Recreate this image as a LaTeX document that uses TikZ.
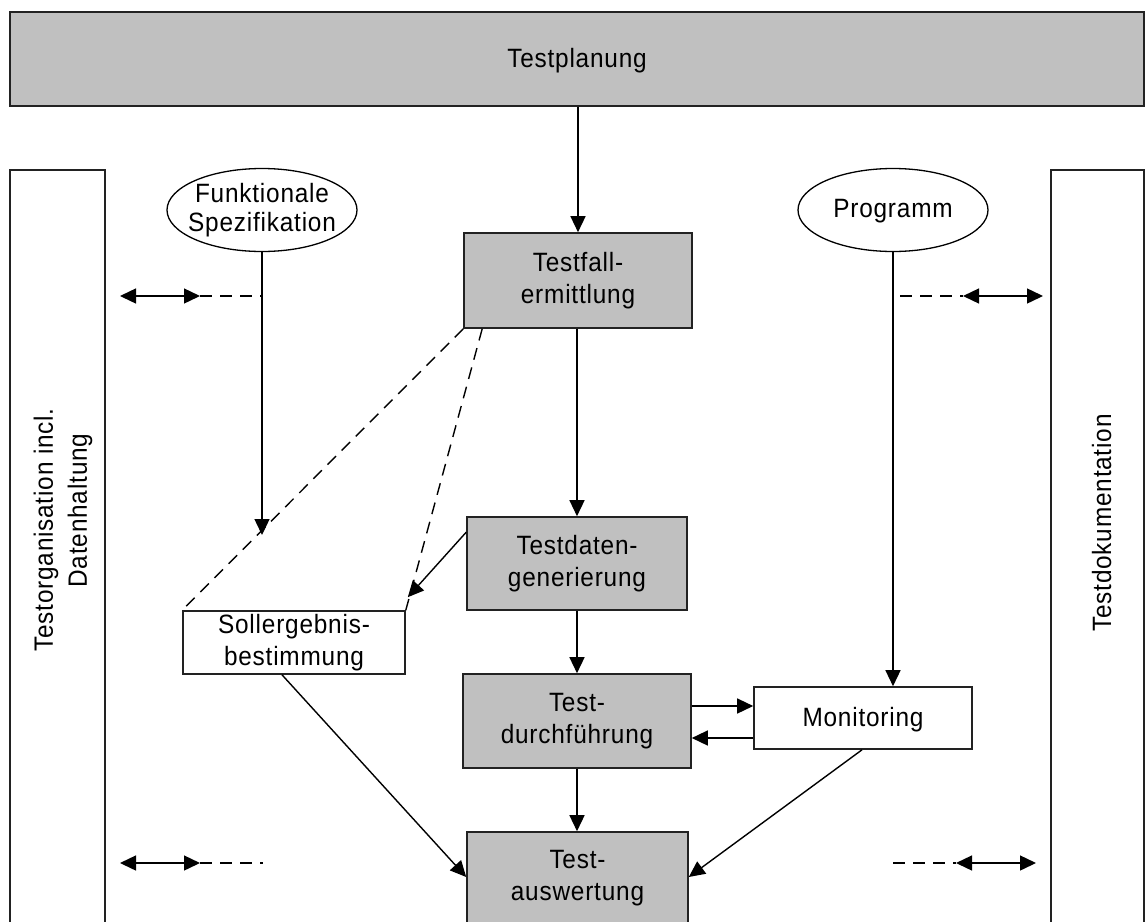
\documentclass[tikz,border=0pt]{standalone}
\usepackage{fontspec}
\setmainfont{Liberation Sans}[LetterSpace=3.0, FakeStretch=0.92]
\usetikzlibrary{arrows.meta,shapes.geometric,calc}
\definecolor{boxgray}{HTML}{C0C0C0}
\definecolor{edge}{HTML}{222222}

\begin{document}
\begin{tikzpicture}[x=1pt,y=-1pt,
  every node/.style={font=\fontsize{26.5}{32}\selectfont},
  oneline/.style={text depth=3pt},
  gbox/.style={draw=edge, fill=boxgray, line width=1.6pt, inner sep=0pt, align=center},
  wbox/.style={draw=edge, fill=white, line width=1.6pt, inner sep=0pt, align=center},
  colbox/.style={draw=edge, line width=1.6pt, inner sep=0pt},
  oval/.style={ellipse, draw, line width=1.3pt, inner sep=0pt,
               minimum width=190pt, minimum height=83pt},
  tip/.style={-{Triangle[length=16pt,width=15pt]}},
  conn/.style={line width=1.4pt, tip},
  both/.style={line width=1.4pt, {Triangle[length=16pt,width=15pt]}-{Triangle[length=16pt,width=15pt]}},
  dsh/.style={line width=1.4pt, dash pattern=on 12pt off 8pt}]

\useasboundingbox (0,0) rectangle (1145,921);
\clip (0,0) rectangle (1145,921);

% planning bar and the two side columns
\node[gbox, oneline, minimum width=1134pt, minimum height=94pt] (plan) at (577,59) {Testplanung};
\node[colbox, minimum width=95pt, minimum height=830pt] (org) at (57.5,585) {};
\node[rotate=90, align=center, font=\fontsize{26.5}{34}\selectfont] (orgtxt) at (63,530)
  {Testorganisation incl.\\\hspace*{39pt}Datenhaltung};
\node[colbox, minimum width=93pt, minimum height=830pt] (doc) at (1097.5,585) {};
\node[rotate=90, oneline] (doctxt) at (1103,523) {Testdokumentation};

% inputs
\node[oval, label={[align=center, inner sep=0pt, font=\fontsize{26.5}{29}\selectfont]center:Funktionale\\Spezifikation}] (fs) at (262,210) {};
\node[oval, label={[inner sep=0pt, oneline]center:Programm}] (prog) at (893,210) {};

% process steps
\node[gbox, minimum width=228pt, minimum height=95pt] (fall) at (578,280.5) {Testfall-\\ermittlung};
\node[gbox, minimum width=220pt, minimum height=93pt] (daten) at (577,563.5) {Testdaten-\\generierung};
\node[wbox, minimum width=222pt, minimum height=63pt] (soll) at (294,642.5) {Sollergebnis-\\bestimmung};
\node[gbox, minimum width=228pt, minimum height=94pt] (durch) at (577,721) {Test-\\durchführung};
\node[wbox, oneline, minimum width=218pt, minimum height=62pt] (mon) at (863,718) {Monitoring};
\node[gbox, minimum width=221pt, minimum height=92pt] (ausw) at (577.5,878) {Test-\\auswertung};

% main flow
\draw[conn] (fall.north |- plan.south) -- (fall.north);
\draw[conn] (daten.north |- fall.south) -- (daten.north);
\draw[conn] (daten.south) -- (durch.north);
\draw[conn] (durch.south) -- (durch.south |- ausw.north);

% specification and program inputs
\coordinate (fsend) at (262,535);
\draw[conn] (fs.south) -- (fsend);
\draw[conn] (prog.south) -- (prog.south |- mon.north);

% expected results
\draw[dsh] (fall.south west) -- (soll.north west);
\draw[dsh] ($(fall.south west)+(19,0)$) -- (soll.north east);
\draw[conn] ($(daten.north west)+(0,16)$) -- ($(soll.north east)+(2,-13)$);
\draw[conn] ($(soll.south)+(-12,0)$) -- ($(ausw.west)+(0,-1)$);

% execution and monitoring
\draw[conn] ($(durch.east)+(0,-15)$) -- ($(mon.west)+(0,-12)$);
\draw[conn] ($(mon.west)+(0,20)$) -- ($(durch.east)+(0,17)$);
\draw[conn] ($(mon.south)+(-1,0)$) -- ($(ausw.east)+(0,-1)$);

% exchange with organisation and documentation
\coordinate (l1a) at (120,296);
\coordinate (l1b) at (200,296);
\draw[both] (l1a) -- (l1b);
\draw[dsh] (l1b) -- (fs.south |- l1b);
\coordinate (l2a) at (120,863);
\coordinate (l2b) at (200,863);
\coordinate (l2c) at (263,863);
\draw[both] (l2a) -- (l2b);
\draw[dsh] (l2b) -- (l2c);

\coordinate (r1a) at (963,296);
\coordinate (r1b) at (1043,296);
\coordinate (r1c) at (900,296);
\draw[both] (r1a) -- (r1b);
\draw[dsh] (r1c) -- (r1a);
\coordinate (r2a) at (956,863);
\coordinate (r2b) at (1036,863);
\coordinate (r2c) at (893,863);
\draw[both] (r2a) -- (r2b);
\draw[dsh] (r2c) -- (r2a);
\end{tikzpicture}
\end{document}
